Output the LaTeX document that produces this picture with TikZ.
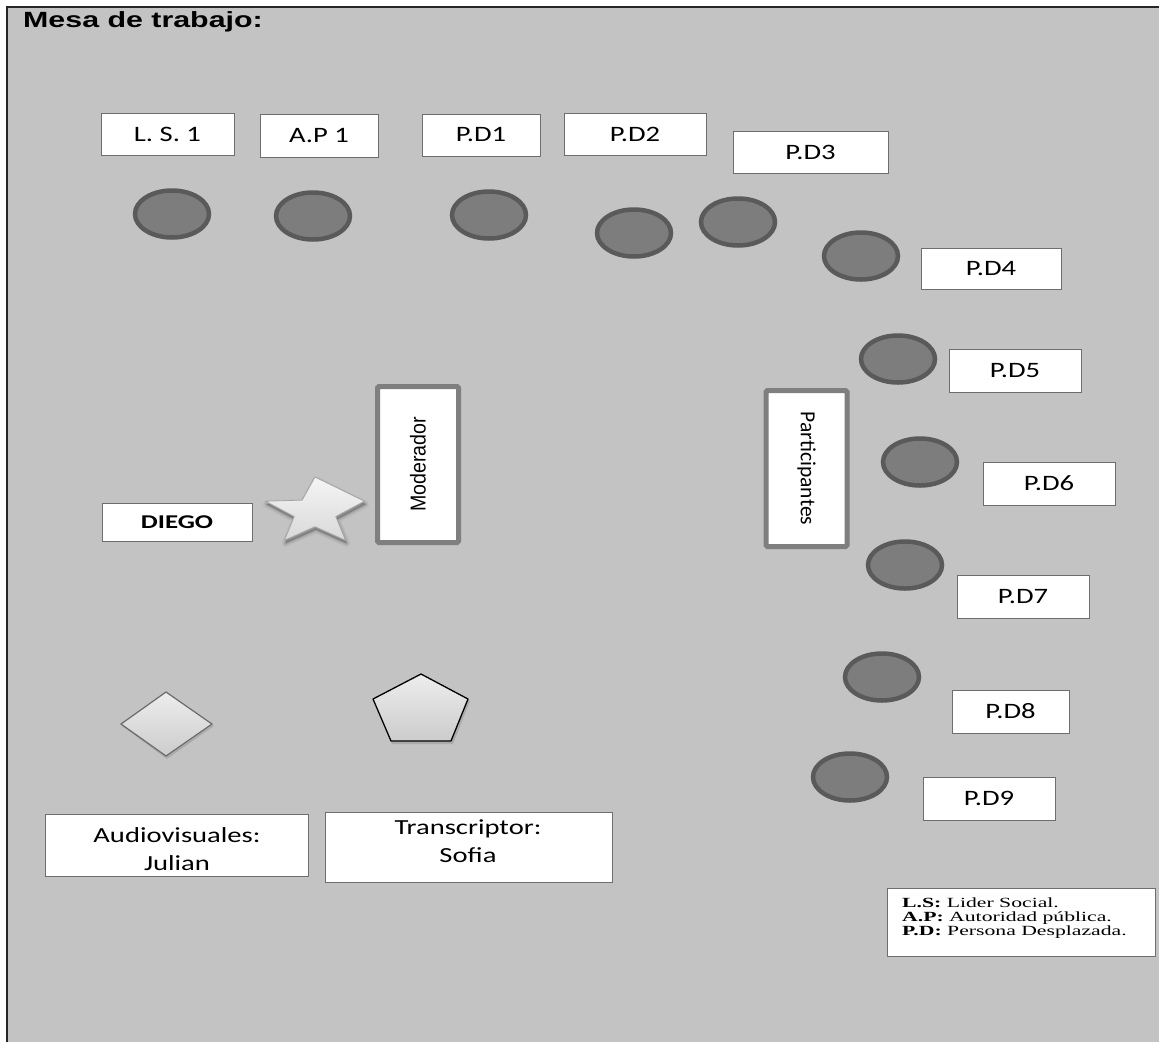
\documentclass[tikz,border=0pt]{standalone}
\usepackage{fontspec}
\usepackage{graphicx}
\usetikzlibrary{shapes.geometric}
\newfontfamily\lblfont{Carlito}
\newfontfamily\arialfont{Liberation Sans}
\newfontfamily\timesfont{Liberation Serif}
\newcommand{\hsc}[2]{\scalebox{#1}[1]{#2}}
\definecolor{bg}{HTML}{C3C3C3}
\definecolor{seatfill}{HTML}{7D7D7D}
\definecolor{seatline}{HTML}{5A5A5A}
\definecolor{boxline}{HTML}{6E6E6E}
\definecolor{frameline}{HTML}{7F7F7F}
\begin{document}
\begin{tikzpicture}[x=1pt,y=-1pt,
  lbl/.style={draw=boxline, fill=white, line width=1pt, inner sep=0pt, font=\lblfont\fontsize{22}{27}\selectfont, align=center},
  txt/.style={inner sep=0pt, font=\lblfont\fontsize{21.5}{28}\selectfont, align=center},
  seat/.style={ellipse, draw=seatline, fill=seatfill, line width=4.5pt, minimum width=74pt, minimum height=47pt, inner sep=0pt},
  frame/.style={draw=frameline, fill=white, line width=5pt, rounded corners=1.5pt, inner sep=0pt, minimum width=156pt, minimum height=81pt},
  shapefill/.style={top color=white!93!black, bottom color=white!80!black}]
\useasboundingbox (0,0) rectangle (1159,1042);
\fill[white] (0,0) rectangle (1159,1042);
\fill[bg] (7,7) rectangle (1159,1042);
\draw[line width=1.5pt, black!85] (7,1042) -- (7,7) -- (1159,7);

% title
\node[anchor=base west, inner sep=0pt, font=\arialfont\bfseries\fontsize{22}{26}\selectfont] (title) at (23,27.5) {\hsc{1.38}{Mesa de trabajo:}};

% labels
\node[lbl, minimum width=133pt, minimum height=42pt] (ls1) at (167.5,134) {\hsc{1.3}{L. S. 1}};
\node[lbl, minimum width=118pt, minimum height=43pt] (ap1) at (319,135.5) {\hsc{1.3}{A.P 1}};
\node[lbl, minimum width=118pt, minimum height=42pt] (pd1) at (481,135) {\hsc{1.3}{P.D1}};
\node[lbl, minimum width=142pt, minimum height=42pt] (pd2) at (635,134) {\hsc{1.3}{P.D2}};
\node[lbl, minimum width=155pt, minimum height=42pt] (pd3) at (810.5,152) {\hsc{1.3}{P.D3}};
\node[lbl, minimum width=140pt, minimum height=41pt] (pd4) at (991,268.5) {\hsc{1.3}{P.D4}};
\node[lbl, minimum width=132pt, minimum height=43pt] (pd5) at (1015,370.5) {\hsc{1.3}{P.D5}};
\node[lbl, minimum width=132pt, minimum height=43pt] (pd6) at (1049,483.5) {\hsc{1.3}{P.D6}};
\node[lbl, minimum width=132pt, minimum height=43pt] (pd7) at (1023,596.5) {\hsc{1.3}{P.D7}};
\node[lbl, minimum width=117pt, minimum height=43pt] (pd8) at (1010.5,711.5) {\hsc{1.3}{P.D8}};
\node[lbl, minimum width=132pt, minimum height=43pt] (pd9) at (989,798.5) {\hsc{1.3}{P.D9}};
\node[lbl, minimum width=150pt, minimum height=38pt, font=\lblfont\bfseries\fontsize{19.5}{23}\selectfont] (diego) at (177,522) {\hsc{1.38}{DIEGO}};

\node[lbl, minimum width=263pt, minimum height=62pt] (audio) at (176.5,845) {};
\node[txt] (audiotxt) at (177,849) {\hsc{1.33}{Audiovisuales:}\\\hsc{1.33}{Julian}};
\node[lbl, minimum width=287pt, minimum height=70pt] (trans) at (468.5,847) {};
\node[txt] (transtxt) at (468,841) {\hsc{1.33}{Transcriptor:}\\\hsc{1.33}{Sofia}};

% seats
\node[seat] (s1) at (172,214) {};
\node[seat] (s2) at (313,216) {};
\node[seat] (s3) at (489,215) {};
\node[seat] (s4) at (634,233) {};
\node[seat] (s5) at (738,222) {};
\node[seat] (s6) at (861,256) {};
\node[seat] (s7) at (898,359) {};
\node[seat] (s8) at (920,462) {};
\node[seat] (s9) at (905,565) {};
\node[seat] (s10) at (882,677) {};
\node[seat] (s11) at (850,777) {};

% frames
\node[frame, rotate=90, font=\arialfont\fontsize{20}{22}\selectfont] (mod) at (418,464.5) {\scalebox{0.98}[1.08]{Moderador}};
\node[frame, rotate=-90, font=\lblfont\fontsize{21.5}{25}\selectfont] (part) at (806.5,468.5) {Participantes};

% star
\foreach \o/\w in {0.05/7, 0.07/4, 0.09/1.5}{
  \draw[black, opacity=\o, fill, line width=\w pt, line join=round]
    (316,480) \foreach \a/\r in {126/0.42,162/1,198/0.42,234/1,270/0.42,306/1,342/0.42,18/1}{ -- ({316+52*\r*cos(\a)},{515-35*\r*sin(\a)}) } -- cycle;
}
\draw[draw=white!65!black, line width=0.8pt, line join=round, top color=white!96!black, bottom color=white!85!black]
  (315,477) \foreach \a/\r in {126/0.42,162/1,198/0.42,234/1,270/0.42,306/1,342/0.42,18/1}{ -- ({315+52*\r*cos(\a)},{512-35*\r*sin(\a)}) } -- cycle;

% diamond
\fill[black, opacity=0.12] (167,694) -- (214,726) -- (167,759) -- (122,726) -- cycle;
\draw[draw=white!42!black, line width=1.2pt, shapefill] (166,692) -- (212,724) -- (166,756) -- (121,724) -- cycle;

% pentagon
\fill[black, opacity=0.12] (422,676) -- (470,701) -- (453,744) -- (392,744) -- (375,701) -- cycle;
\draw[black, line width=1.3pt, line join=round, shapefill] (421,674) -- (468,699) -- (451,741) -- (391,741) -- (373,699) -- cycle;

% legend
\node[draw=boxline, fill=white, line width=1pt, minimum width=268pt, minimum height=68pt, inner sep=0pt] (legend) at (1021,922) {};
\node[anchor=north west, inner sep=0pt, align=left, font=\timesfont\fontsize{14}{14}\selectfont] (legendtxt) at (902,898)
  {\hsc{1.55}{\textbf{L.S:} Lider Social.}\\\hsc{1.55}{\textbf{A.P:} Autoridad pública.}\\\hsc{1.55}{\textbf{P.D:} Persona Desplazada.}};
\end{tikzpicture}
\end{document}
